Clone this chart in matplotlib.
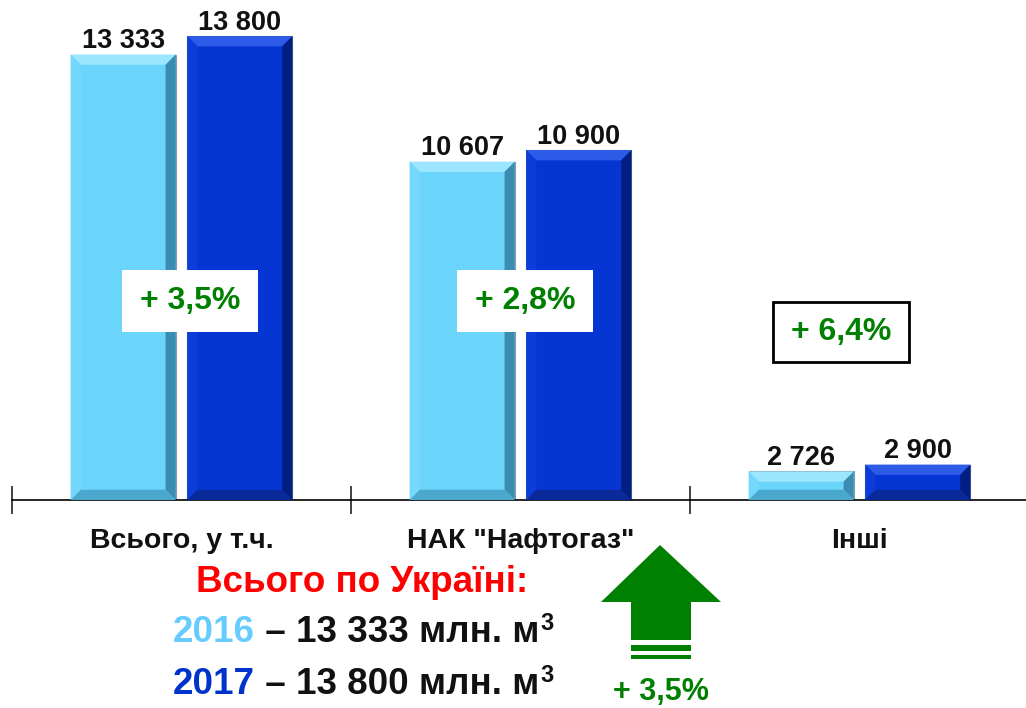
import matplotlib
matplotlib.use("Agg")
import matplotlib.pyplot as plt
from matplotlib.patches import Polygon, Rectangle
import numpy as np

plt.rcParams['font.family'] = ['Liberation Sans', 'DejaVu Sans']

categories = ['Всього, у т.ч.', 'НАК "Нафтогаз"', 'Інші']
values_2016 = [13333, 10607, 2726]
values_2017 = [13800, 10900, 2900]
value_labels_2016 = ['13 333', '10 607', '2 726']
value_labels_2017 = ['13 800', '10 900', '2 900']
growth_labels = ['+ 3,5%', '+ 2,8%', '+ 6,4%']
total_2016 = '13 333'
total_2017 = '13 800'
total_growth = '+ 3,5%'

W, H = 1026, 708
fig = plt.figure(figsize=(W / 100, H / 100), dpi=100)

def fx(x):
    return x / W

def fy(y):
    return 1 - y / H

ax = fig.add_axes([fx(12), fy(500), fx(1029) - fx(12), fy(0) - fy(500)])
ax.set_xlim(-0.5, 2.5)
ax.set_ylim(2000, 14720)

light = '#6AD4FB'
dark = '#0535D2'
green = '#008000'

x = np.arange(len(categories))
width = 0.31
off = 0.172

def bevel(xc, val, top, left, right, bottom):
    x0, x1 = xc - width / 2, xc + width / 2
    y0, y1 = 2000, val
    dx, dy = 0.03, 260
    ax.add_patch(Polygon([(x0, y1), (x1, y1), (x1 - dx, y1 - dy), (x0 + dx, y1 - dy)],
                         closed=True, facecolor=top, edgecolor='none', zorder=3))
    ax.add_patch(Polygon([(x0, y0), (x0, y1), (x0 + dx, y1 - dy), (x0 + dx, y0 + dy)],
                         closed=True, facecolor=left, edgecolor='none', zorder=3))
    ax.add_patch(Polygon([(x1, y0), (x1, y1), (x1 - dx, y1 - dy), (x1 - dx, y0 + dy)],
                         closed=True, facecolor=right, edgecolor='none', zorder=3))
    ax.add_patch(Polygon([(x0, y0), (x1, y0), (x1 - dx, y0 + dy), (x0 + dx, y0 + dy)],
                         closed=True, facecolor=bottom, edgecolor='none', zorder=3))

ax.bar(x - off, np.array(values_2016) - 2000, width, bottom=2000, color=light,
       edgecolor='#8a9aa8', linewidth=0.8, zorder=2)
ax.bar(x + off, np.array(values_2017) - 2000, width, bottom=2000, color=dark,
       edgecolor='#5a6a90', linewidth=0.8, zorder=2)

for i in range(len(categories)):
    bevel(x[i] - off, values_2016[i], '#9CE6FF', '#74D8FC', '#3A8CB0', '#4AA8CC')
    bevel(x[i] + off, values_2017[i], '#2D5AE6', '#0D3DD8', '#011E82', '#0A2A9A')
    ax.text(x[i] - off, values_2016[i] + 10, value_labels_2016[i], ha='center', va='bottom',
            fontsize=19.5, fontweight='bold', color='#111111')
    ax.text(x[i] + off, values_2017[i] + 10, value_labels_2017[i], ha='center', va='bottom',
            fontsize=19.5, fontweight='bold', color='#111111')

for s in ['top', 'right', 'left']:
    ax.spines[s].set_visible(False)
ax.spines['bottom'].set_linewidth(1.2)
ax.set_yticks([])
ax.set_xticks([-0.5, 0.5, 1.5, 2.5])
ax.set_xticklabels([])
ax.tick_params(axis='x', direction='inout', length=20, width=1.2, color='#222222')
ax.set_facecolor('none')

for i, c in enumerate(categories):
    ax.text(x[i], -0.055, c, transform=ax.get_xaxis_transform(), ha='center', va='top',
            fontsize=20.5, fontweight='bold', color='#111111')

# growth boxes (pixel layout)
boxes = [(122, 270, 258, 332, False), (457, 270, 593, 332, False), (773, 302, 909, 362, True)]
for (bx0, by0, bx1, by1, border), lab in zip(boxes, growth_labels):
    fig.patches.append(Rectangle((fx(bx0), fy(by1)), fx(bx1) - fx(bx0), fy(by0) - fy(by1),
                                 transform=fig.transFigure, facecolor='white',
                                 edgecolor='black' if border else 'none', linewidth=2, zorder=5))
    fig.text(fx((bx0 + bx1) / 2), fy((by0 + by1) / 2), lab, ha='center', va='center',
             fontsize=23, fontweight='bold', color=green, zorder=6)

# bottom summary text
fig.text(fx(362), fy(582), 'Всього по Україні:', ha='center', va='center',
         fontsize=26.5, fontweight='bold', color='#FF0000')
for yy, year, col, total in [(632, '2016', '#66CCFF', total_2016), (684, '2017', '#0033CC', total_2017)]:
    t = fig.text(fx(173), fy(yy), year, ha='left', va='center', fontsize=26.5,
                 fontweight='bold', color=col)
    t2 = ax.annotate(' – ' + total + ' млн. м', xy=(1, 0), xycoords=t, xytext=(0, 0),
                     textcoords='offset points', ha='left', va='bottom', fontsize=26.5,
                     fontweight='bold', color='#111111', annotation_clip=False)
    ax.annotate('3', xy=(1, 1), xycoords=t2, xytext=(1, 2),
                textcoords='offset points', ha='left', va='top', fontsize=17,
                fontweight='bold', color='#111111', annotation_clip=False)

# green arrow
arrow_pts = [(660, 545), (721, 602), (691, 602), (691, 640), (631, 640), (631, 602), (601, 602)]
fig.patches.append(Polygon([(fx(a), fy(b)) for a, b in arrow_pts], closed=True,
                           transform=fig.transFigure, facecolor=green, edgecolor='none'))
for (sy0, sy1) in [(645, 651), (655, 659)]:
    fig.patches.append(Rectangle((fx(631), fy(sy1)), fx(691) - fx(631), fy(sy0) - fy(sy1),
                                 transform=fig.transFigure, facecolor=green, edgecolor='none'))
fig.text(fx(661), fy(692), total_growth, ha='center', va='center', fontsize=22,
         fontweight='bold', color=green)

fig.savefig('out.png', dpi=100, facecolor='white')
